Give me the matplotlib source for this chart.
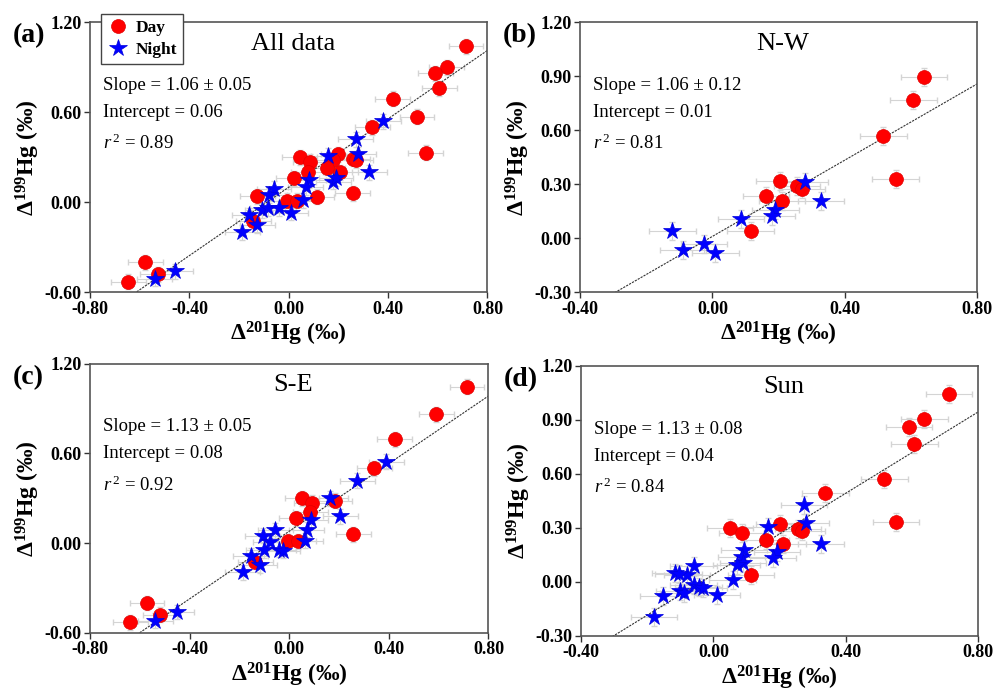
import numpy as np
import matplotlib
matplotlib.use('Agg')
import matplotlib.pyplot as plt

plt.rcParams['font.family'] = ['Liberation Serif', 'DejaVu Serif']
plt.rcParams['mathtext.fontset'] = 'custom'
plt.rcParams['mathtext.rm'] = 'Liberation Serif'
plt.rcParams['mathtext.it'] = 'Liberation Serif:italic'
plt.rcParams['mathtext.bf'] = 'Liberation Serif:bold'

# (a) All data
all_day_x = [0.714, 0.636, 0.590, 0.606, 0.418, 0.516, 0.337, 0.552, 0.044, 0.086, 0.078, 0.200,
             0.180, 0.156, 0.207, 0.257, 0.270, 0.020, -0.126, -0.008, 0.032, 0.113, 0.257,
             -0.142, -0.577, -0.527, -0.646]
all_day_y = [1.04, 0.90, 0.86, 0.76, 0.69, 0.57, 0.50, 0.33, 0.30, 0.27, 0.20, 0.32,
             0.28, 0.23, 0.20, 0.29, 0.28, 0.16, 0.04, 0.01, 0.01, 0.035, 0.06,
             -0.127, -0.40, -0.48, -0.53]
all_night_x = [0.38, 0.27, 0.28, 0.16, 0.324, 0.18, 0.19, 0.082, 0.069, 0.059, -0.059, -0.079,
               -0.106, -0.085, -0.039, 0.008, -0.16, -0.126, -0.187, -0.456, -0.54]
all_night_y = [0.54, 0.42, 0.32, 0.31, 0.20, 0.135, 0.16, 0.147, 0.10, 0.013, 0.09, 0.047,
               -0.053, -0.04, -0.04, -0.07, -0.087, -0.153, -0.20, -0.46, -0.51]

# (b) N-W
nw_day_x = [0.639, 0.607, 0.516, 0.553, 0.203, 0.162, 0.210, 0.256, 0.270, 0.115]
nw_day_y = [0.898, 0.765, 0.567, 0.330, 0.317, 0.232, 0.204, 0.289, 0.274, 0.039]
nw_night_x = [0.278, 0.328, 0.190, 0.180, 0.087, -0.121, -0.088, -0.026, 0.009]
nw_night_y = [0.310, 0.204, 0.154, 0.126, 0.104, 0.039, -0.063, -0.035, -0.081]

# (c) S-E
se_day_x = [0.714, 0.590, 0.423, 0.341, 0.051, 0.091, 0.182, 0.084, 0.027, -0.003, 0.037,
            0.258, -0.137, -0.571, -0.518, -0.639]
se_day_y = [1.046, 0.863, 0.696, 0.500, 0.300, 0.270, 0.283, 0.210, 0.165, 0.013, 0.013,
            0.058, -0.125, -0.400, -0.480, -0.530]
se_night_x = [0.390, 0.274, 0.165, 0.205, 0.087, 0.071, 0.064, -0.056, -0.107, -0.076,
              -0.103, -0.043, -0.025, -0.154, -0.119, -0.186, -0.451, -0.538]
se_night_y = [0.544, 0.417, 0.300, 0.180, 0.154, 0.090, 0.015, 0.087, 0.050, 0.010,
              -0.047, -0.043, -0.050, -0.085, -0.147, -0.196, -0.460, -0.520]

# (d) Sun
sun_day_x = [0.712, 0.637, 0.590, 0.607, 0.516, 0.338, 0.552, 0.050, 0.087, 0.200, 0.158,
             0.211, 0.256, 0.268, 0.113]
sun_day_y = [1.044, 0.903, 0.859, 0.764, 0.570, 0.495, 0.330, 0.297, 0.269, 0.319, 0.232,
             0.208, 0.293, 0.282, 0.037]
sun_night_x = [0.274, 0.278, 0.165, 0.324, 0.192, 0.180, 0.092, 0.085, 0.090, 0.070, 0.058,
               -0.060, -0.117, -0.080, -0.105, -0.060, -0.045, -0.030, -0.102, -0.090, 0.010,
               -0.153, -0.180]
sun_night_y = [0.427, 0.325, 0.302, 0.208, 0.167, 0.130, 0.176, 0.136, 0.106, 0.093, 0.009,
               0.089, 0.050, 0.037, 0.045, -0.018, -0.031, -0.037, -0.050, -0.061, -0.074,
               -0.080, -0.198]

# fitted line as drawn (slope, intercept)
all_fit = [1.14, 0.10]
nw_fit = [1.06, 0.01]
se_fit = [1.13, 0.08]
sun_fit = [1.13, 0.04]

all_stats = ['1.06 \u00b1 0.05', '0.06', '0.89']
nw_stats = ['1.06 \u00b1 0.12', '0.01', '0.81']
se_stats = ['1.13 \u00b1 0.05', '0.08', '0.92']
sun_stats = ['1.13 \u00b1 0.08', '0.04', '0.84']

x_err = 0.07
y_err = 0.05

fig = plt.figure(figsize=(9.96, 6.94), dpi=100)

panels = [
    ('(a)', 'All data', [0.0904, 0.579, 0.399, 0.389], all_day_x, all_day_y, all_night_x, all_night_y,
     all_fit, all_stats, (-0.8, 0.8), (-0.6, 1.2), np.arange(-0.8, 0.81, 0.4), np.arange(-0.6, 1.21, 0.6)),
    ('(b)', 'N-W', [0.5823, 0.579, 0.399, 0.389], nw_day_x, nw_day_y, nw_night_x, nw_night_y,
     nw_fit, nw_stats, (-0.4, 0.8), (-0.3, 1.2), np.arange(-0.4, 0.81, 0.4), np.arange(-0.3, 1.21, 0.3)),
    ('(c)', 'S-E', [0.0904, 0.088, 0.400, 0.388], se_day_x, se_day_y, se_night_x, se_night_y,
     se_fit, se_stats, (-0.8, 0.8), (-0.6, 1.2), np.arange(-0.8, 0.81, 0.4), np.arange(-0.6, 1.21, 0.6)),
    ('(d)', 'Sun', [0.5833, 0.084, 0.399, 0.389], sun_day_x, sun_day_y, sun_night_x, sun_night_y,
     sun_fit, sun_stats, (-0.4, 0.8), (-0.3, 1.2), np.arange(-0.4, 0.81, 0.4), np.arange(-0.3, 1.21, 0.3)),
]

for tag, title, rect, dx, dy, nx, ny, fit, stats, xlim, ylim, xt, yt in panels:
    ax = fig.add_axes(rect)
    ax.errorbar(dx, dy, xerr=x_err, yerr=y_err, fmt='none', ecolor='#d4d4d4', elinewidth=0.8,
                capsize=2, zorder=1)
    ax.errorbar(nx, ny, xerr=x_err, yerr=y_err, fmt='none', ecolor='#d4d4d4', elinewidth=0.8,
                capsize=2, zorder=1)
    xs = np.array(xlim)
    ax.plot(xs, fit[0] * xs + fit[1], color='#333333', lw=0.8, ls=(0, (2, 1)), zorder=2)
    ax.plot(dx, dy, 'o', color='#ff0000', ms=10, mec='#e00000', mew=0.5, zorder=3, label='Day')
    ax.plot(nx, ny, '*', color='#0000ff', ms=13, mec='#0000dd', mew=0.5, zorder=4, label='Night')
    ax.set_xlim(xlim)
    ax.set_ylim(ylim)
    ax.set_xticks(xt)
    ax.set_yticks(yt)
    ax.set_xticklabels(['%.2f' % v for v in xt])
    ax.set_yticklabels(['%.2f' % v for v in yt])
    ax.tick_params(direction='out', length=4, width=1, colors='#333333', labelsize=13, pad=2)
    for lab in ax.get_xticklabels() + ax.get_yticklabels():
        lab.set_fontweight('bold')
        lab.set_color('black')
    for sp in ax.spines.values():
        sp.set_color('#555555')
        sp.set_linewidth(1.2)
    ax.set_xlabel('\u0394$^{\\mathbf{201}}$Hg (\u2030)', fontsize=17, fontweight='bold', labelpad=2)
    ax.set_ylabel('\u0394$^{\\mathbf{199}}$Hg (\u2030)', fontsize=17, fontweight='bold', labelpad=2)
    ax.text(0.51, 0.92, title, transform=ax.transAxes, ha='center', va='center', fontsize=19)
    ax.text(0.033, 0.765, 'Slope = ' + stats[0], transform=ax.transAxes, ha='left', va='center', fontsize=13.5)
    ax.text(0.033, 0.665, 'Intercept = ' + stats[1], transform=ax.transAxes, ha='left', va='center', fontsize=13.5)
    ax.text(0.033, 0.55, '$\\mathit{r}^{\\,2}$ = ' + stats[2], transform=ax.transAxes, ha='left', va='center',
            fontsize=13.5)
    bb = ax.get_position()
    fig.text(bb.x0 - 0.078, bb.y1 - 0.02, tag, fontsize=20, fontweight='bold', ha='left', va='center')
    if tag == '(a)':
        leg = ax.legend(loc='upper left', bbox_to_anchor=(0.027, 1.03), frameon=True, fancybox=False,
                        edgecolor='#444444', framealpha=1, prop={'weight': 'bold', 'size': 12.5},
                        handletextpad=0.35, borderpad=0.35, labelspacing=0.3, handlelength=1.3,
                        borderaxespad=0)
        leg.get_frame().set_linewidth(1.0)
        leg.set_zorder(10)

fig.savefig('out.png', dpi=100)
